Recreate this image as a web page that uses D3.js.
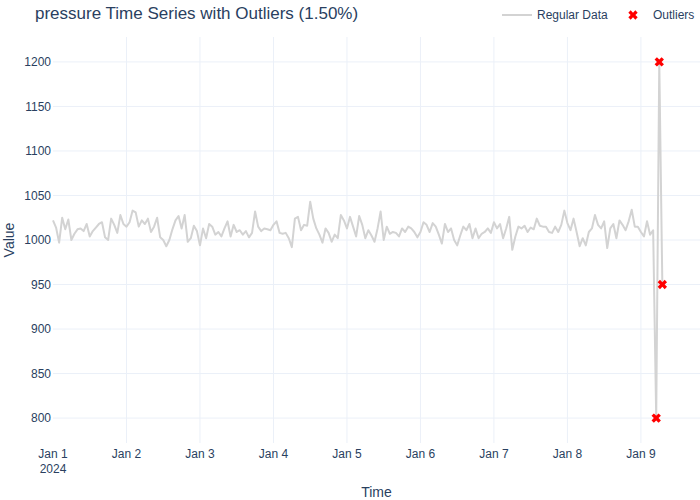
<!DOCTYPE html>
<html>
<head>
<meta charset="utf-8">
<script src="https://cdn.jsdelivr.net/npm/d3@7"></script>
<style>
  body { margin: 0; background: #fff; }
  text { font-family: "Liberation Sans", Arial, sans-serif; fill: #2a3f5f; }
</style>
</head>
<body>
<div id="chart"></div>
<script>
// hourly readings, starting Jan 1 2024 00:00
var values = [
  1022, 1014, 997, 1025, 1012, 1023, 1000, 1007, 1012, 1013, 1010, 1018, 1004, 1010, 1014, 1018, 1020, 1003, 1000, 1024, 1017, 1008, 1028, 1018,
  1015, 1020, 1033, 1031, 1015, 1022, 1018, 1024, 1009, 1015, 1025, 1003, 1000, 993, 1000, 1012, 1022, 1027, 1013, 1028, 998, 1002, 1016, 1010,
  994, 1013, 1002, 1018, 1015, 1006, 1009, 1004, 1013, 1021, 1004, 1017, 1009, 1011, 1006, 1010, 1003, 1008, 1032, 1015, 1010, 1013, 1012, 1011,
  1017, 1021, 1008, 1007, 1008, 1002, 992, 1024, 1026, 1011, 1017, 1016, 1043, 1024, 1013, 1006, 997, 1013, 1008, 998, 1006, 1002, 1028, 1022,
  1013, 1026, 1015, 1004, 1027, 1017, 1002, 1011, 1005, 998, 1013, 1032, 1000, 1015, 1007, 1009, 1008, 1004, 1013, 1009, 1015, 1013, 1009, 1003,
  1009, 1020, 1017, 1009, 1019, 1015, 1006, 996, 1018, 1009, 1013, 1000, 994, 1005, 1015, 1011, 1018, 1002, 1013, 1002, 1007, 1009, 1013, 1008,
  1020, 1013, 1018, 1002, 1013, 1026, 989, 1004, 1015, 1013, 1016, 1009, 1014, 1012, 1024, 1016, 1015, 1015, 1009, 1008, 1015, 1009, 1017, 1033,
  1019, 1011, 1024, 1009, 993, 1002, 994, 1009, 1013, 1028, 1017, 1013, 1021, 991, 1013, 1018, 1002, 1022, 1017, 1011, 1021, 1034, 1015, 1015,
  1009, 1004, 1021, 1006, 1011, 800, 1200, 950
];
var outlierIndex = [197, 198, 199];
var yTicks = [800, 850, 900, 950, 1000, 1050, 1100, 1150, 1200];
var yRange = [772, 1228];
var xEndHours = 211.3;
var titleText = "pressure Time Series with Outliers (1.50%)";
var seriesNames = ["Regular Data", "Outliers"];

var w = 700,
    h = 500,
    plotL = 53,
    plotR = 700,
    plotT = 37,
    plotB = 443;

var start = new Date(2024, 0, 1, 0, 0, 0);
var data = values.map(function (v, i) {
    return { t: d3.timeHour.offset(start, i), v: v };
});
var outliers = outlierIndex.map(function (i) { return data[i]; });

var xScale = d3.scaleTime()
    .domain([start, new Date(start.getTime() + xEndHours * 3600 * 1000)])
    .range([plotL, plotR]);
var yScale = d3.scaleLinear()
    .domain(yRange)
    .range([plotB, plotT]);

var svg = d3.select("#chart")
    .append("svg")
    .attr("width", w)
    .attr("height", h);

var dayTicks = xScale.ticks(d3.timeDay.every(1));

// grid
svg.append("g")
    .selectAll("line")
    .data(yTicks)
    .enter()
    .append("line")
    .attr("x1", plotL)
    .attr("x2", plotR)
    .attr("y1", function (d) { return yScale(d); })
    .attr("y2", function (d) { return yScale(d); })
    .attr("stroke", "#ebf0f8")
    .attr("stroke-width", 1);

svg.append("g")
    .selectAll("line")
    .data(dayTicks.filter(function (d) { return xScale(d) > plotL + 1; }))
    .enter()
    .append("line")
    .attr("x1", function (d) { return xScale(d); })
    .attr("x2", function (d) { return xScale(d); })
    .attr("y1", plotT)
    .attr("y2", plotB)
    .attr("stroke", "#ebf0f8")
    .attr("stroke-width", 1);

// y tick labels
svg.append("g")
    .selectAll("text")
    .data(yTicks)
    .enter()
    .append("text")
    .attr("x", plotL - 2)
    .attr("y", function (d) { return yScale(d); })
    .attr("dy", "0.35em")
    .attr("text-anchor", "end")
    .attr("font-size", "12px")
    .text(function (d) { return d; });

// x tick labels
var fmt = d3.timeFormat("%b %-d");
svg.append("g")
    .selectAll("text")
    .data(dayTicks)
    .enter()
    .append("text")
    .attr("x", function (d) { return xScale(d); })
    .attr("y", 458)
    .attr("text-anchor", "middle")
    .attr("font-size", "12px")
    .text(function (d) { return fmt(d); });

svg.append("text")
    .attr("x", xScale(dayTicks[0]))
    .attr("y", 473)
    .attr("text-anchor", "middle")
    .attr("font-size", "12px")
    .text(d3.timeFormat("%Y")(dayTicks[0]));

// line
var line = d3.line()
    .x(function (d) { return xScale(d.t); })
    .y(function (d) { return yScale(d.v); });

svg.append("path")
    .datum(data)
    .attr("d", line)
    .attr("fill", "none")
    .attr("stroke", "lightgray")
    .attr("stroke-width", 2)
    .attr("stroke-linejoin", "round");

// outlier markers
var xMark = d3.symbol().type(d3.symbolCross).size(55);
svg.append("g")
    .selectAll("path")
    .data(outliers)
    .enter()
    .append("path")
    .attr("d", xMark)
    .attr("transform", function (d) {
        return "translate(" + xScale(d.t) + "," + yScale(d.v) + ") rotate(45)";
    })
    .attr("fill", "red");

// titles
svg.append("text")
    .attr("x", 35)
    .attr("y", 19)
    .attr("font-size", "17px")
    .text(titleText);

svg.append("text")
    .attr("x", (plotL + plotR) / 2)
    .attr("y", 497)
    .attr("text-anchor", "middle")
    .attr("font-size", "14px")
    .text("Time");

svg.append("text")
    .attr("transform", "translate(14," + (plotT + plotB) / 2 + ") rotate(-90)")
    .attr("text-anchor", "middle")
    .attr("font-size", "14px")
    .text("Value");

// legend
var legend = svg.append("g");
legend.append("line")
    .attr("x1", 502)
    .attr("x2", 532)
    .attr("y1", 15)
    .attr("y2", 15)
    .attr("stroke", "lightgray")
    .attr("stroke-width", 2);
legend.append("text")
    .attr("x", 537)
    .attr("y", 19)
    .attr("font-size", "12px")
    .text(seriesNames[0]);
legend.append("path")
    .attr("d", xMark)
    .attr("transform", "translate(633,15) rotate(45)")
    .attr("fill", "red");
legend.append("text")
    .attr("x", 653)
    .attr("y", 19)
    .attr("font-size", "12px")
    .text(seriesNames[1]);
</script>
</body>
</html>
